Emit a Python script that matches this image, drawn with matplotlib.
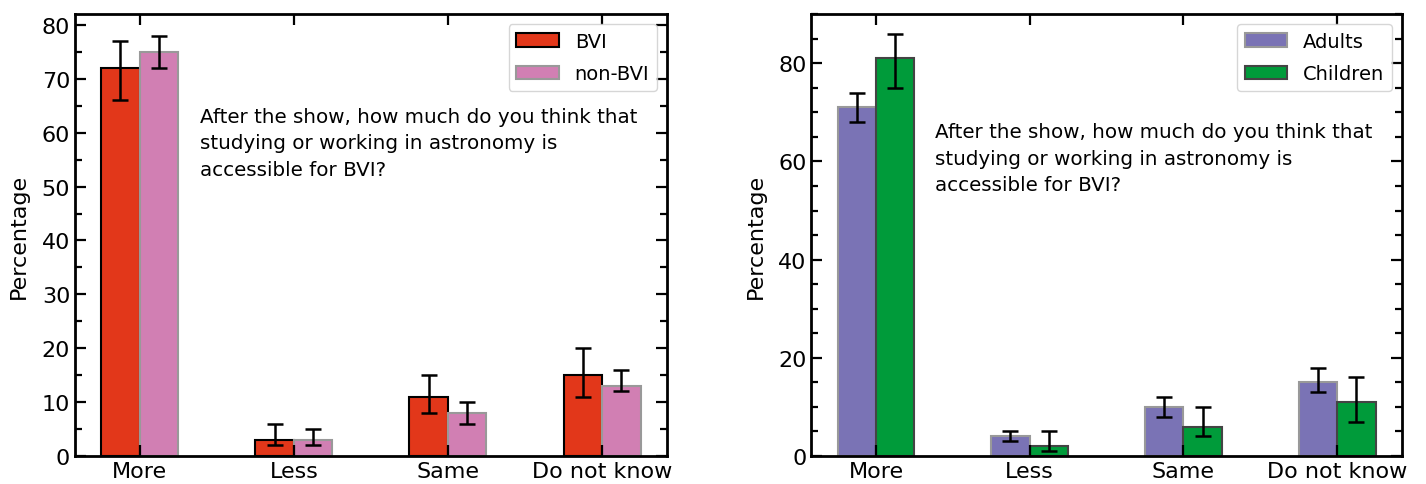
import matplotlib
matplotlib.use("Agg")
import matplotlib.pyplot as plt
import numpy as np
from matplotlib.ticker import MultipleLocator

categories = ["More", "Less", "Same", "Do not know"]
question = ("After the show, how much do you think that\n"
            "studying or working in astronomy is\n"
            "accessible for BVI?")

# left panel: BVI vs non-BVI
bvi = [72, 3, 11, 15]
bvi_lo = [66, 2, 8, 11]
bvi_hi = [77, 6, 15, 20]
nonbvi = [75, 3, 8, 13]
nonbvi_lo = [72, 2, 6, 12]
nonbvi_hi = [78, 5, 10, 16]

# right panel: adults vs children
adults = [71, 4, 10, 15]
adults_lo = [68, 3, 8, 13]
adults_hi = [74, 5, 12, 18]
children = [81, 2, 6, 11]
children_lo = [75, 1, 4, 7]
children_hi = [86, 5, 10, 16]

W = 0.25


def yerr(vals, lo, hi):
    vals = np.array(vals)
    return [vals - np.array(lo), np.array(hi) - vals]


def panel(ax, s1, s2, ymax, major, minor):
    x = np.arange(len(categories))
    for (vals, lo, hi, lab, fc, ec), off in zip([s1, s2], [-W / 2, W / 2]):
        ax.bar(x + off, vals, W, color=fc, edgecolor=ec, linewidth=1.5,
               label=lab, yerr=yerr(vals, lo, hi),
               error_kw=dict(ecolor="black", elinewidth=1.8, capsize=6, capthick=1.8))
    ax.set_xticks(x)
    ax.set_xticklabels(categories)
    ax.set_xlim(-0.42, 3.42)
    ax.set_ylim(0, ymax)
    ax.yaxis.set_major_locator(MultipleLocator(major))
    ax.yaxis.set_minor_locator(MultipleLocator(minor))
    ax.tick_params(which="both", direction="in", top=True, right=True,
                   width=1.6, labelsize=16)
    ax.tick_params(which="major", length=8)
    ax.tick_params(which="minor", length=5)
    ax.tick_params(axis="x", which="minor", bottom=False, top=False)
    for sp in ax.spines.values():
        sp.set_linewidth(2)
    ax.set_ylabel("Percentage", fontsize=16, labelpad=9)
    ax.legend(loc="upper right", fontsize=14, handlelength=2.2, labelspacing=0.7)


fig = plt.figure(figsize=(14.26, 4.85), dpi=100)
ax1 = fig.add_axes([0.0526, 0.0577, 0.415, 0.911])
ax2 = fig.add_axes([0.569, 0.0577, 0.414, 0.911])

panel(ax1,
      (bvi, bvi_lo, bvi_hi, "BVI", "#e2371a", "black"),
      (nonbvi, nonbvi_lo, nonbvi_hi, "non-BVI", "#d17fb3", "#999999"),
      82, 10, 5)
panel(ax2,
      (adults, adults_lo, adults_hi, "Adults", "#7a73b5", "#999999"),
      (children, children_lo, children_hi, "Children", "#009b3a", "#444444"),
      90, 20, 5)

ax1.text(0.211, 0.79, question, transform=ax1.transAxes, fontsize=14.3,
         va="top", ha="left", linespacing=1.5)
ax2.text(0.21, 0.755, question, transform=ax2.transAxes, fontsize=14.3,
         va="top", ha="left", linespacing=1.5)

fig.savefig("out.png", dpi=100)
